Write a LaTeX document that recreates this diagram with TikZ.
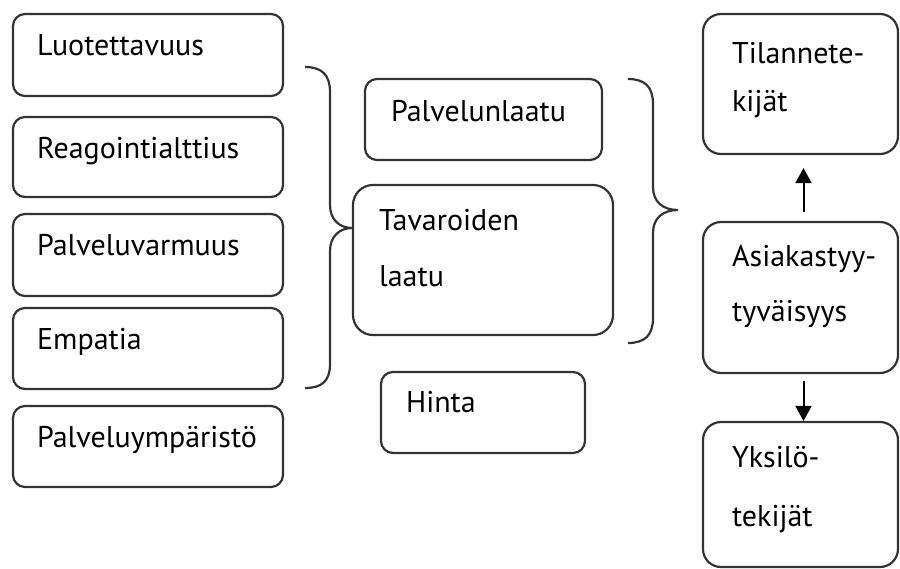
\documentclass[tikz,border=0pt]{standalone}
\usepackage{fontspec}
\setmainfont{PT Sans}
\usetikzlibrary{arrows.meta,calc}
\definecolor{boxgray}{HTML}{333333}
\begin{document}
\begin{tikzpicture}[x=1pt,y=-1pt,
  box/.style={draw=boxgray, line width=2.2pt, rounded corners=12pt, inner sep=0pt},
  lbl/.style={anchor=base west, inner sep=0pt, font=\fontsize{30}{36}\selectfont},
  arr/.style={-{Triangle[width=16pt,length=15pt]}, line width=2pt, draw=black},
  bracestyle/.style={draw=boxgray, line width=2.2pt}]
\useasboundingbox (0,0) rectangle (900,568);
% left column
\node[box, minimum width=270pt, minimum height=82pt] (l1) at (148,55) {};
\node[box, minimum width=270pt, minimum height=80pt] (l2) at (148,157) {};
\node[box, minimum width=270pt, minimum height=82pt] (l3) at (148,255) {};
\node[box, minimum width=270pt, minimum height=81pt] (l4) at (148,348.5) {};
\node[box, minimum width=270pt, minimum height=81pt] (l5) at (148,446.5) {};
\node[lbl] at ($(l1.north west)+(25,43)$) {Luotettavuus};
\node[lbl] at ($(l2.north west)+(25,43)$) {Reagointialttius};
\node[lbl] at ($(l3.north west)+(25,43)$) {Palveluvarmuus};
\node[lbl] at ($(l4.north west)+(25,43)$) {Empatia};
\node[lbl] at ($(l5.north west)+(25,43)$) {Palveluympäristö};
% middle column
\node[box, minimum width=237pt, minimum height=81pt] (m1) at (483.5,119.5) {};
\node[box, rounded corners=20pt, minimum width=260pt, minimum height=150pt] (m2) at (483,260) {};
\node[box, minimum width=204pt, minimum height=81pt] (m3) at (483,412.5) {};
\node[lbl] at ($(m1.north west)+(27,44)$) {Palvelunlaatu};
\node[lbl] at ($(m2.north west)+(27,47)$) {Tavaroiden};
\node[lbl] at ($(m2.north west)+(27,103)$) {laatu};
\node[lbl] at ($(m3.north west)+(26,42)$) {Hinta};
% right column
\node[box, rounded corners=18pt, minimum width=195pt, minimum height=140pt] (tila) at (800.5,84) {};
\node[box, rounded corners=18pt, minimum width=195pt, minimum height=151pt] (asia) at (800.5,297.5) {};
\node[box, rounded corners=18pt, minimum width=195pt, minimum height=145pt] (yksi) at (800.5,494.5) {};
\node[lbl] at ($(tila.north west)+(30,51)$) {Tilannete-};
\node[lbl] at ($(tila.north west)+(30,99)$) {kijät};
\node[lbl] at ($(asia.north west)+(30,46)$) {Asiakastyy-};
\node[lbl] at ($(asia.north west)+(30,101)$) {tyväisyys};
\node[lbl] at ($(yksi.north west)+(30,47)$) {Yksilö-};
\node[lbl] at ($(yksi.north west)+(30,106)$) {tekijät};
% arrows
\draw[arr] ($(asia.north)+(3,-9)$) -- ($(tila.south)+(3,13)$);
\draw[arr] ($(asia.south)+(3,7)$) -- ($(yksi.north)+(3,0)$);
% braces
\draw[bracestyle] (305,67) .. controls (322,67) and (330,75) .. (330,92)
  -- (330,205) .. controls (330,220) and (340,228) .. (352,228)
  .. controls (340,228) and (330,236) .. (330,251)
  -- (330,364) .. controls (330,381) and (322,388) .. (305,388);
\draw[bracestyle] (628,79) .. controls (645,79) and (653,87) .. (653,104)
  -- (653,187) .. controls (653,202) and (663,210) .. (678,210)
  .. controls (663,210) and (653,218) .. (653,233)
  -- (653,318) .. controls (653,335) and (645,343) .. (628,343);
\end{tikzpicture}
\end{document}
